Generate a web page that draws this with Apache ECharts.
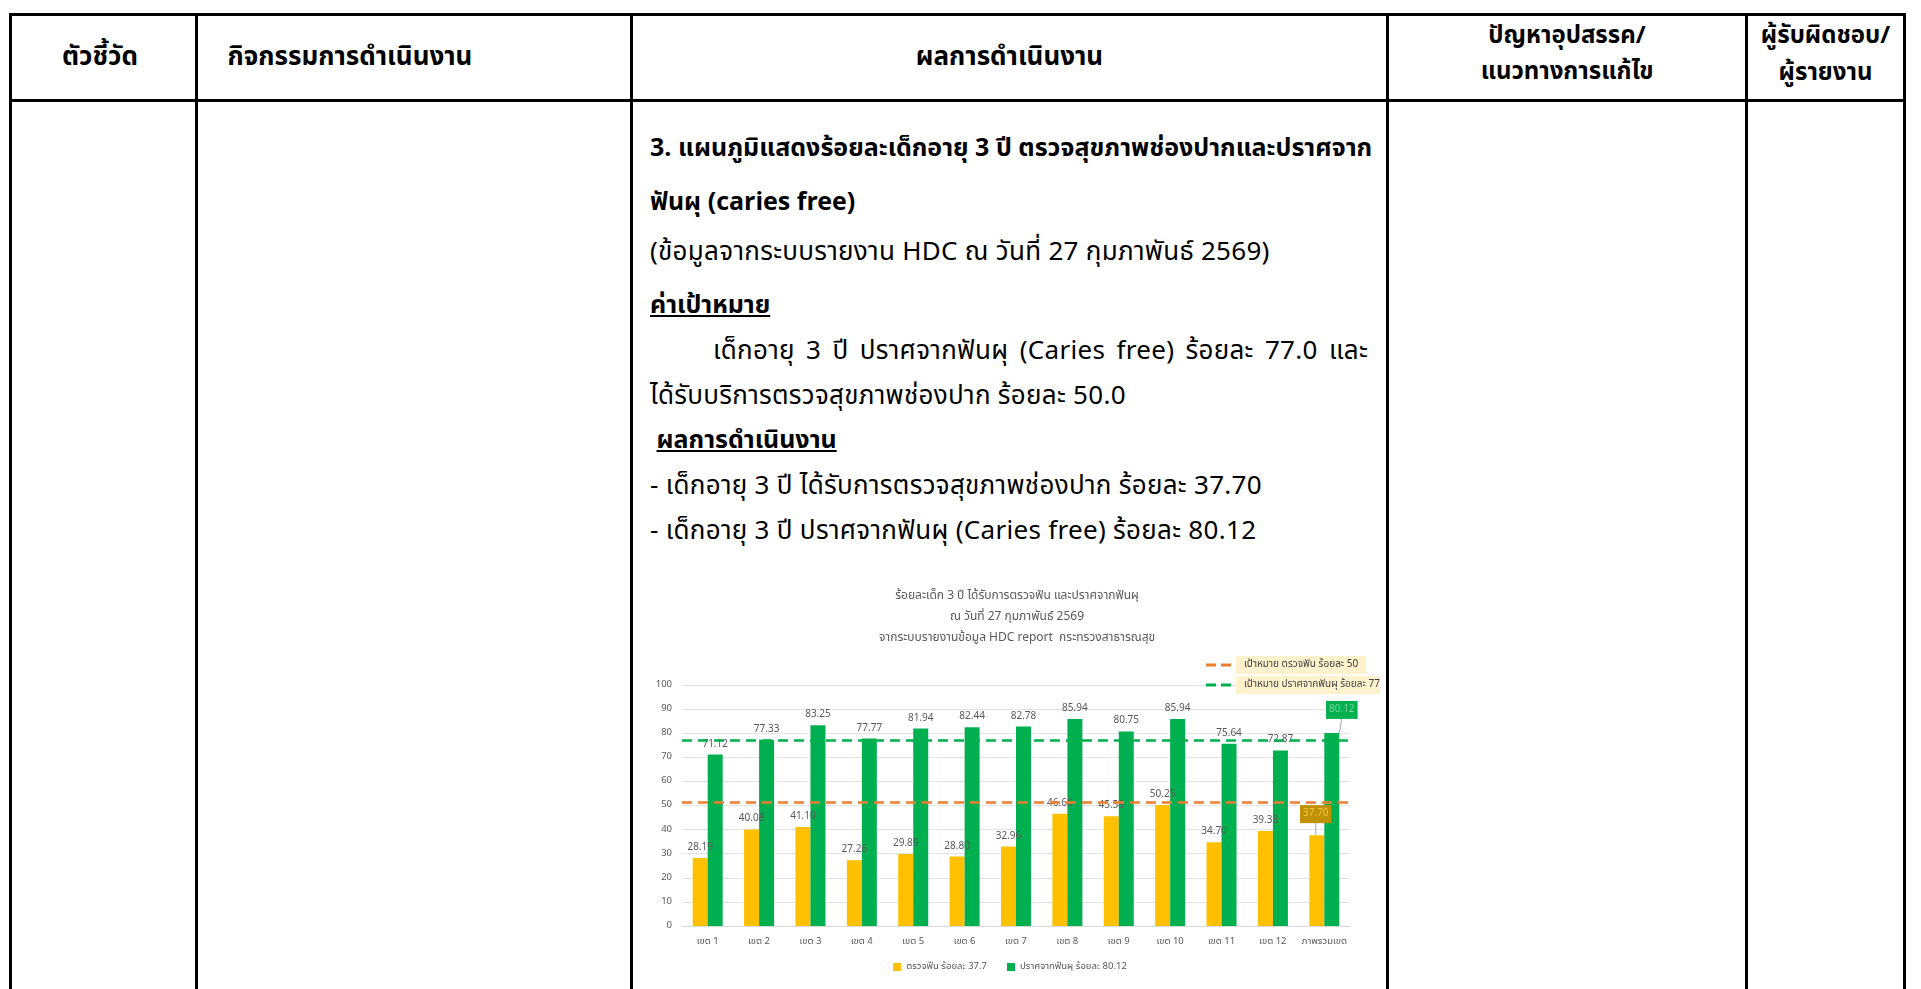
<!DOCTYPE html>
<html>
<head>
<meta charset="utf-8">
<script src="https://cdn.jsdelivr.net/npm/echarts@6/dist/echarts.min.js"></script>
<style>
  html, body { margin: 0; padding: 0; background: #fff; }
  body { width: 1921px; height: 989px; overflow: hidden; position: relative;
         font-family: "Noto Sans Thai", "Tahoma", "Leelawadee UI", "Noto Sans", "DejaVu Sans", sans-serif; color: #000; }
  .hl { position: absolute; height: 3px; background: #000; }
  .vl { position: absolute; width: 3px; background: #000; }
  .hd { position: absolute; font-weight: bold; font-size: 26px; text-align: center; line-height: 30px; white-space: nowrap; }
  .hd2 { font-size: 24px; }
  .ln { position: absolute; left: 650px; width: 722px; font-size: 26px; line-height: 40px; white-space: nowrap; letter-spacing: 0.3px; }
  .b { font-weight: bold; font-size: 25px; letter-spacing: 0; }
  .u { text-decoration: underline; }
  .jf { width: 655px; padding-left: 63px; white-space: normal; text-align: justify; text-align-last: justify; }
  #chart { position: absolute; left: 640px; top: 575px; width: 740px; height: 414px; }
</style>
</head>
<body>
<!-- ตาราง -->
<div class="hl" style="left:9px; top:13px; width:1897px;"></div>
<div class="hl" style="left:9px; top:99px; width:1897px;"></div>
<div class="vl" style="left:9px; top:13px; height:976px;"></div>
<div class="vl" style="left:195px; top:13px; height:976px;"></div>
<div class="vl" style="left:630px; top:13px; height:976px;"></div>
<div class="vl" style="left:1386px; top:13px; height:976px;"></div>
<div class="vl" style="left:1745px; top:13px; height:976px;"></div>
<div class="vl" style="left:1903px; top:13px; height:976px;"></div>

<div class="hd" style="left:12px; width:176px; top:42px;">ตัวชี้วัด</div>
<div class="hd" style="left:220px; width:260px; top:42px;">กิจกรรมการดำเนินงาน</div>
<div class="hd" style="left:633px; width:753px; top:42px;">ผลการดำเนินงาน</div>
<div class="hd hd2" style="left:1389px; width:356px; top:21px;">ปัญหาอุปสรรค/</div>
<div class="hd hd2" style="left:1389px; width:356px; top:57px;">แนวทางการแก้ไข</div>
<div class="hd hd2" style="left:1748px; width:155px; top:21px;">ผู้รับผิดชอบ/</div>
<div class="hd hd2" style="left:1748px; width:155px; top:58px;">ผู้รายงาน</div>

<!-- ข้อความ -->
<div class="ln b" style="top:128px;">3. แผนภูมิแสดงร้อยละเด็กอายุ 3 ปี ตรวจสุขภาพช่องปากและปราศจาก</div>
<div class="ln b" style="top:182px;">ฟันผุ (caries free)</div>
<div class="ln" style="top:232px;">(ข้อมูลจากระบบรายงาน HDC ณ วันที่ 27 กุมภาพันธ์ 2569)</div>
<div class="ln b u" style="top:285px;">ค่าเป้าหมาย</div>
<div class="ln jf" style="top:331px;">เด็กอายุ 3 ปี ปราศจากฟันผุ (Caries free) ร้อยละ 77.0 และ</div>
<div class="ln" style="top:376px;">ได้รับบริการตรวจสุขภาพช่องปาก ร้อยละ 50.0</div>
<div class="ln b" style="top:420px;">&nbsp;<span class="u">ผลการดำเนินงาน</span></div>
<div class="ln" style="top:466px;">- เด็กอายุ 3 ปี ได้รับการตรวจสุขภาพช่องปาก ร้อยละ 37.70</div>
<div class="ln" style="top:511px;">- เด็กอายุ 3 ปี ปราศจากฟันผุ (Caries free) ร้อยละ 80.12</div>

<div id="chart"></div>

<script>
// หมวดหมู่ (เขตสุขภาพ)
const categories = ['เขต 1', 'เขต 2', 'เขต 3', 'เขต 4', 'เขต 5', 'เขต 6', 'เขต 7',
  'เขต 8', 'เขต 9', 'เขต 10', 'เขต 11', 'เขต 12', 'ภาพรวมเขต'];

// ร้อยละได้รับการตรวจฟัน
const examRate = [28.19, 40.08, 41.10, 27.26, 29.89, 28.80, 32.96, 46.60, 45.58, 50.25, 34.70, 39.38, 37.70];

// ร้อยละปราศจากฟันผุ
const cariesFreeRate = [71.12, 77.33, 83.25, 77.77, 81.94, 82.44, 82.78, 85.94, 80.75, 85.94, 75.64, 72.87, 80.12];

// เส้นเป้าหมาย (ระดับที่อ่านได้จากภาพ)
const targetNames = ['เป้าหมาย ตรวจฟัน ร้อยละ 50', 'เป้าหมาย ปราศจากฟันผุ ร้อยละ 77'];
const targetLevels = [51.5, 77];

// ชื่อชุดข้อมูล
const barNames = ['ตรวจฟัน ร้อยละ 37.7', 'ปราศจากฟันผุ ร้อยละ 80.12'];

// แกน y
const yMin = 0;
const yMax = 100;
const yStep = 10;

const titleLines = [
  'ร้อยละเด็ก 3 ปี ได้รับการตรวจฟัน และปราศจากฟันผุ',
  'ณ วันที่ 27 กุมภาพันธ์ 2569',
  'จากระบบรายงานข้อมูล HDC report  กระทรวงสาธารณสุข'
];

const FONT = '"Noto Sans Thai", Tahoma, "Leelawadee UI", "Noto Sans", sans-serif';
const last = categories.length - 1;

// ไอคอนเส้นประในคำอธิบาย (สองขีด)
const DASH_ICON = 'path://M0,0H10V3H0Z M15,0H25V3H15Z';

let chart = echarts.init(document.getElementById('chart'), null, { renderer: 'canvas' });

// ป้ายค่าของแท่งสุดท้าย (ภาพรวม) มีกรอบสี
function barData(values, boxColor, textColor) {
  return values.map((v, i) => {
    if (i !== last) return v;
    return {
      value: v,
      label: {
        backgroundColor: boxColor,
        color: textColor,
        padding: [4, 3]
      },
      labelLine: { show: true, lineStyle: { color: '#a6a6a6', width: 1 } }
    };
  });
}

// เส้นเป้าหมาย
function targetSeries(idx, color) {
  return {
    name: targetNames[idx],
    type: 'line',
    data: [],
    symbol: 'none',
    lineStyle: { color: color, width: 2.5, type: [10, 5] },
    itemStyle: { color: color },
    markLine: {
      silent: true,
      symbol: 'none',
      label: { show: false },
      lineStyle: { color: color, width: 2.5, type: [10, 6] },
      data: [{ yAxis: targetLevels[idx] }]
    },
    z: 5
  };
}

let option = {
  animation: false,
  textStyle: { fontFamily: FONT },
  title: {
    text: titleLines.join('\n'),
    left: 372,
    top: 6,
    textAlign: 'center',
    textStyle: { fontSize: 12, fontWeight: 'normal', color: '#595959', lineHeight: 21, fontFamily: FONT }
  },
  legend: [
    {
      data: targetNames,
      orient: 'vertical',
      left: 561,
      top: 76,
      itemGap: 2,
      icon: DASH_ICON,
      itemWidth: 25,
      itemHeight: 3,
      textStyle: {
        fontSize: 10, color: '#404040', backgroundColor: '#fff2cc',
        padding: [4, 8], fontFamily: FONT
      }
    },
    {
      data: barNames,
      left: 'center',
      bottom: 12,
      icon: 'rect',
      itemWidth: 8,
      itemHeight: 8,
      itemGap: 20,
      textStyle: { fontSize: 9.5, color: '#595959', fontFamily: FONT }
    }
  ],
  grid: { left: 42, right: 30, top: 110, bottom: 63 },
  xAxis: {
    type: 'category',
    data: categories,
    axisTick: { show: false },
    axisLine: { lineStyle: { color: '#d9d9d9' } },
    axisLabel: { color: '#595959', fontSize: 9.5, margin: 11, interval: 0, fontFamily: FONT }
  },
  yAxis: {
    type: 'value',
    min: yMin,
    max: yMax,
    interval: yStep,
    axisLine: { show: false },
    axisTick: { show: false },
    axisLabel: { color: '#595959', fontSize: 9.5, margin: 10 },
    splitLine: { lineStyle: { color: '#e3e3e3' } }
  },
  series: [
    {
      name: barNames[0],
      type: 'bar',
      data: barData(examRate, '#bf9000', '#f5c54a'),
      itemStyle: { color: '#ffc000' },
      barWidth: 15,
      barGap: '0%',
      label: {
        show: true, position: 'top', distance: 5, offset: [-4, 0],
        color: '#595959', fontSize: 10,
        formatter: p => p.value.toFixed(2)
      },
      labelLayout: p => p.dataIndex === last ? { dx: -1, dy: -7 } : {},
      z: 2
    },
    {
      name: barNames[1],
      type: 'bar',
      data: barData(cariesFreeRate, '#00b050', '#7ed39a'),
      itemStyle: { color: '#00b050' },
      barWidth: 15,
      barGap: '0%',
      label: {
        show: true, position: 'top', distance: 5,
        color: '#595959', fontSize: 10,
        formatter: p => p.value.toFixed(2)
      },
      labelLayout: p => p.dataIndex === last ? { dx: 10, dy: -9 } : {},
      z: 2
    },
    targetSeries(0, '#ed7d31'),
    targetSeries(1, '#00b050')
  ]
};

chart.setOption(option);
</script>
</body>
</html>
